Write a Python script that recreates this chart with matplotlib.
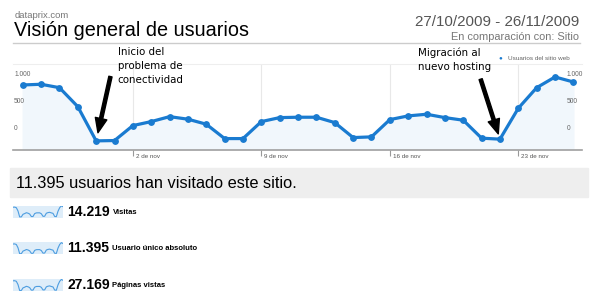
import matplotlib
matplotlib.use('Agg')
import matplotlib.pyplot as plt
from matplotlib.patches import Rectangle
from matplotlib.lines import Line2D

plt.rcParams['font.family'] = ['Liberation Sans', 'DejaVu Sans']

# datos diarios 27/10/2009 - 26/11/2009
dias = list(range(31))
usuarios = [812, 825, 761, 405, -238, -232, 49, 124, 217, 169, 75, -195, -195, 124,
            199, 206, 206, 105, -176, -163, 161, 231, 262, 199, 150, -187, -206,
            375, 761, 962, 868]
tick_dias = [6, 13, 20, 27]
tick_labels = ['2 de nov', '9 de nov', '16 de nov', '23 de nov']
y_ticks = [1000, 500, 0]
y_labels = ['1.000', '500', '0']
totales = ['14.219', '11.395', '27.169']
metricas = ['Visitas', 'Usuario único absoluto', 'Páginas vistas']

azul = '#1a7bd0'
W, H = 600, 305


def fx(px):
    return px / W


def fy(py):
    return 1 - py / H


fig = plt.figure(figsize=(6, 3.05), dpi=100)

# cabecera
fig.text(fx(15), fy(15), 'dataprix.com', fontsize=6.8, color='#777777', va='center')
fig.text(fx(14), fy(31), 'Visión general de usuarios', fontsize=14.3, color='black', va='center')
fig.text(fx(579), fy(22), '27/10/2009 - 26/11/2009', fontsize=10.9, color='#555555',
         ha='right', va='center')
fig.text(fx(579), fy(37), 'En comparación con: Sitio', fontsize=7.9, color='#777777',
         ha='right', va='center')
fig.add_artist(Line2D([fx(13), fx(580)], [fy(43), fy(43)], color='#cccccc', lw=1))

# grafico principal
ax = fig.add_axes([fx(13), fy(149.5), fx(582) - fx(13), fy(64.3) - fy(149.5)])
ax.set_xlim(-0.53, 30.47)
ax.set_ylim(-400, 1200)
ax.vlines(tick_dias, -400, 1200, color='#e8e8e8', lw=0.8, zorder=0)
ax.fill_between(dias, usuarios, -400, color='#f1f7fc', zorder=1)
ax.plot(dias, usuarios, color=azul, lw=2.3, marker='o', ms=3.9,
        solid_joinstyle='round', zorder=3)

ax.set_xticks(tick_dias)
ax.set_xticklabels([])
ax.set_yticks([])
ax.tick_params(axis='x', length=4, color='#999999', width=0.8)
for s in ['left', 'right']:
    ax.spines[s].set_visible(False)
ax.spines['top'].set_color('#eeeeee')
ax.spines['top'].set_linewidth(0.8)
ax.spines['bottom'].set_color('#a0a0a0')
ax.spines['bottom'].set_linewidth(1.2)

for d, lbl in zip(tick_dias, tick_labels):
    ax.annotate(lbl, xy=(d, 0), xycoords=('data', 'axes fraction'), xytext=(2, -3),
                textcoords='offset points', ha='left', va='top', fontsize=4.5, color='#555555')

xr = (567 - 13) / (582 - 13)
for v, lbl in zip(y_ticks, y_labels):
    ax.text(0.002, v, lbl, transform=ax.get_yaxis_transform(), fontsize=4.8,
            color='#666666', va='center', ha='left')
    ax.text(xr, v, lbl, transform=ax.get_yaxis_transform(), fontsize=4.8,
            color='#666666', va='center', ha='left')

# leyenda
fig.text(fx(500), fy(58), '●', color=azul, fontsize=4.5, ha='center', va='center')
fig.text(fx(508), fy(58), 'Usuarios del sitio web', color='#666666', fontsize=4.6, va='center')

# anotaciones
flecha = dict(arrowstyle='simple,head_length=0.8,head_width=0.65,tail_width=0.18',
              color='black', mutation_scale=13, shrinkA=0)
ax.annotate('', xy=(4, usuarios[4]), xytext=(14.3, 64.3), textcoords='offset pixels',
            arrowprops=dict(flecha, shrinkB=6), zorder=5)
ax.annotate('', xy=(26, usuarios[26]), xytext=(-19.3, 60), textcoords='offset pixels',
            arrowprops=dict(flecha, shrinkB=4), zorder=5)

for i, linea in enumerate(['Inicio del', 'problema de', 'conectividad']):
    fig.text(fx(117.5), fy(51.7 + 14.2 * i), linea, family='DejaVu Sans', fontsize=7.4,
             va='center')
for i, linea in enumerate(['Migración al', 'nuevo hosting']):
    fig.text(fx(418), fy(53 + 14.2 * i), linea, family='DejaVu Sans', fontsize=7.4,
             va='center')

# resumen
fig.add_artist(Rectangle((fx(10), fy(197)), fx(588) - fx(10), (197 - 168) / H,
                         transform=fig.transFigure, color='#eeeeee', zorder=0))
fig.text(fx(16), fy(183), '11.395 usuarios han visitado este sitio.', fontsize=11.8,
         va='center')

for i, (tot, met) in enumerate(zip(totales, metricas)):
    yc = 211.5 + 36.8 * i
    sp = fig.add_axes([fx(13), fy(yc + 6), fx(63) - fx(13), 12 / H])
    sp.set_facecolor('#deedf9')
    sp.plot(dias, usuarios, color='#4d9de0', lw=0.8)
    sp.set_xlim(0, 30)
    sp.set_ylim(-300, 1000)
    sp.set_xticks([])
    sp.set_yticks([])
    for s in sp.spines.values():
        s.set_visible(False)
    fig.text(fx(67), fy(yc), tot, fontsize=10, fontweight='bold', va='center')
    fig.text(fx(112.5), fy(yc + 0.5), met, fontsize=5.5, fontweight='bold', va='center')

fig.savefig('out.png', dpi=100)
